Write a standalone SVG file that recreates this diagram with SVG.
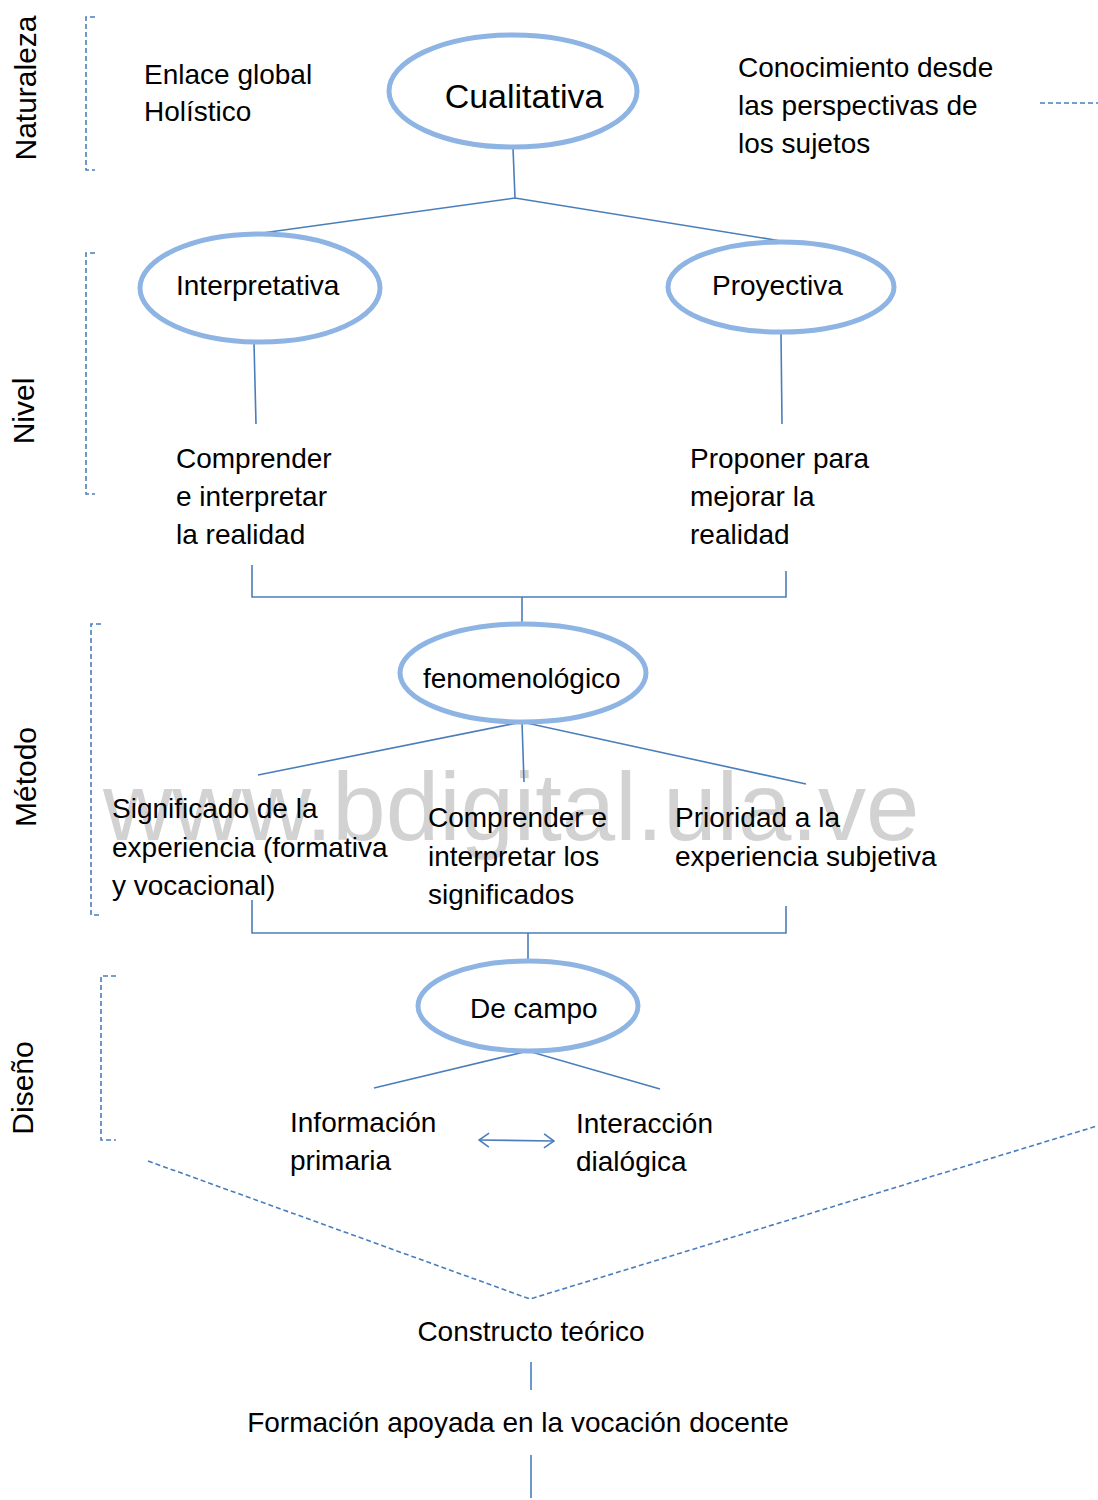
<svg xmlns="http://www.w3.org/2000/svg" width="1098" height="1500" viewBox="0 0 1098 1500">
  <style>
    text { font-family: "Liberation Sans", Arial, sans-serif; fill: #000; }
    .t { font-size: 28px; }
    .side { font-size: 30px; }
    .oval { fill: none; stroke: #8EB4E3; stroke-width: 5; }
    .ln { fill: none; stroke: #4A7EBB; stroke-width: 1.6; }
    .dash { fill: none; stroke: #4A7EBB; stroke-width: 1.6; stroke-dasharray: 5 3; }
    .wm { font-size: 96px; fill: #D2D2D2; }
  </style>
  <defs>
    <marker id="open" viewBox="0 0 12 16" refX="11" refY="8" markerWidth="12" markerHeight="16" markerUnits="userSpaceOnUse" orient="auto-start-reverse">
      <path d="M1 1 L11 8 L1 15" fill="none" stroke="#4A7EBB" stroke-width="1.6"/>
    </marker>
  </defs>
  <rect width="1098" height="1500" fill="#fff"/>

  <!-- watermark -->
  <text class="wm" x="103" y="840">www.bdigital.ula.ve</text>

  <!-- section labels and brackets -->
  <g id="sections">
    <text class="side" transform="translate(36 88) rotate(-90)" text-anchor="middle">Naturaleza</text>
    <path class="dash" d="M95 17 H86 V170 H95"/>
    <text class="side" transform="translate(34 411) rotate(-90)" text-anchor="middle">Nivel</text>
    <path class="dash" d="M95 253 H86 V494 H95"/>
    <text class="side" transform="translate(36 777) rotate(-90)" text-anchor="middle">Método</text>
    <path class="dash" d="M101 624 H91 V915 H101"/>
    <text class="side" transform="translate(33 1088) rotate(-90)" text-anchor="middle">Diseño</text>
    <path class="dash" d="M116 976 H101 V1140 H116"/>
  </g>

  <!-- connectors -->
  <g id="connectors">
    <path class="ln" d="M513 148 L515 198 M255 234 L515 198 L781 241"/>
    <path class="ln" d="M254 343 L256 424 M781 333 L782 424"/>
    <path class="ln" d="M252 565 V597 H786 V571 M522 597 V623"/>
    <path class="ln" d="M258 775 L522 722 L806 784 M522 722 L524 782"/>
    <path class="ln" d="M252 900 V933 H786 V906 M528 933 V961"/>
    <path class="ln" d="M374 1088 L528 1051 L660 1089"/>
    <path class="ln" d="M479 1140 L554 1141" marker-start="url(#open)" marker-end="url(#open)"/>
    <path class="dash" d="M148 1161 L530 1299 L1097 1126"/>
    <path class="dash" d="M1040 103 H1098"/>
    <path class="ln" d="M531 1362 V1390 M531 1455 V1498"/>
  </g>

  <!-- Naturaleza -->
  <g id="n-enlace">
    <text class="t" x="144" y="84">Enlace global</text>
    <text class="t" x="144" y="121">Holístico</text>
  </g>
  <g id="n-cualitativa">
    <ellipse class="oval" cx="513" cy="91" rx="124" ry="56"/>
    <text x="524" y="108" font-size="34" text-anchor="middle">Cualitativa</text>
  </g>
  <g id="n-conocimiento">
    <text class="t" x="738" y="77">Conocimiento desde</text>
    <text class="t" x="738" y="115">las perspectivas de</text>
    <text class="t" x="738" y="153">los sujetos</text>
  </g>

  <!-- Nivel -->
  <g id="n-interpretativa">
    <ellipse class="oval" cx="260" cy="288" rx="120" ry="54"/>
    <text class="t" x="176" y="295">Interpretativa</text>
  </g>
  <g id="n-proyectiva">
    <ellipse class="oval" cx="781" cy="287" rx="113" ry="45"/>
    <text class="t" x="712" y="295">Proyectiva</text>
  </g>
  <g id="n-comprender">
    <text class="t" x="176" y="468">Comprender</text>
    <text class="t" x="176" y="506">e interpretar</text>
    <text class="t" x="176" y="544">la realidad</text>
  </g>
  <g id="n-proponer">
    <text class="t" x="690" y="468">Proponer para</text>
    <text class="t" x="690" y="506">mejorar la</text>
    <text class="t" x="690" y="544">realidad</text>
  </g>

  <!-- Método -->
  <g id="n-fenomenologico">
    <ellipse class="oval" cx="523" cy="673" rx="123" ry="49"/>
    <text class="t" x="423" y="688">fenomenológico</text>
  </g>
  <g id="n-significado">
    <text class="t" x="112" y="818">Significado de la</text>
    <text class="t" x="112" y="857">experiencia (formativa</text>
    <text class="t" x="112" y="895">y vocacional)</text>
  </g>
  <g id="n-comprender-e">
    <text class="t" x="428" y="827">Comprender e</text>
    <text class="t" x="428" y="866">interpretar los</text>
    <text class="t" x="428" y="904">significados</text>
  </g>
  <g id="n-prioridad">
    <text class="t" x="675" y="827">Prioridad a la</text>
    <text class="t" x="675" y="866">experiencia subjetiva</text>
  </g>

  <!-- Diseño -->
  <g id="n-decampo">
    <ellipse class="oval" cx="528" cy="1006" rx="110" ry="45"/>
    <text class="t" x="470" y="1018">De campo</text>
  </g>
  <g id="n-informacion">
    <text class="t" x="290" y="1132">Información</text>
    <text class="t" x="290" y="1170">primaria</text>
  </g>
  <g id="n-interaccion">
    <text class="t" x="576" y="1133">Interacción</text>
    <text class="t" x="576" y="1171">dialógica</text>
  </g>

  <!-- results -->
  <g id="n-constructo">
    <text class="t" x="531" y="1341" text-anchor="middle">Constructo teórico</text>
  </g>
  <g id="n-formacion">
    <text class="t" x="518" y="1432" text-anchor="middle">Formación apoyada en la vocación docente</text>
  </g>
</svg>
